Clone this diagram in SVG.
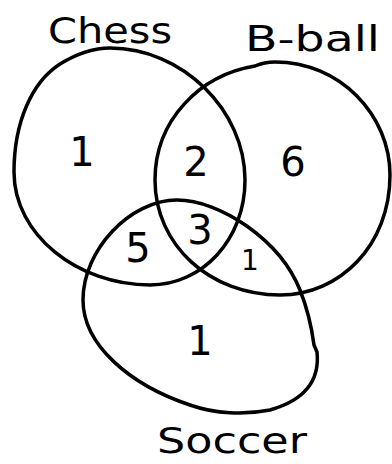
<svg xmlns="http://www.w3.org/2000/svg" width="392" height="464" viewBox="0 0 392 464">
<style>
.c{fill:none;stroke:#000;stroke-width:3.5;stroke-linecap:round;stroke-linejoin:round}
.t{font-family:"DejaVu Sans","Liberation Sans",sans-serif;fill:#000}
.lab{font-size:36px}
.num{font-size:40px}
</style>
<rect width="392" height="464" fill="#fff"/>
<g id="chess">
<path class="c" d="M60,64 C78,53 95,48 110,48 C182,48 245,110 245,180 C245,240 202,285 150,285 C78,285 14,235 14,172 C14,122 32,82 60,64 Z"/>
<text class="t lab" x="48" y="43" textLength="124" lengthAdjust="spacingAndGlyphs">Chess</text>
</g>
<g id="bball">
<path class="c" d="M255,66 C262,63 268,62 275,62 C340,62 390,115 390,175 C390,245 340,295 280,295 C210,295 155,245 155,180 C155,120 200,75 255,66 Z"/>
<text class="t lab" x="245" y="51" textLength="135" lengthAdjust="spacingAndGlyphs">B-ball</text>
</g>
<g id="soccer">
<path class="c" d="M177,200 C220,200 280,240 300,290 C308,310 312,330 314,345 L317,352 C320,380 305,400 270,410 C245,415 215,414 190,405 C130,385 83,345 83,300 C83,250 130,200 177,200 Z"/>
<text class="t lab" font-size="34" x="157" y="453" textLength="150" lengthAdjust="spacingAndGlyphs">Soccer</text>
</g>
<g id="regions">
<text class="t num" x="82" y="166" text-anchor="middle">1</text>
<text class="t num" x="196" y="176" text-anchor="middle">2</text>
<text class="t num" x="293" y="176" text-anchor="middle">6</text>
<text class="t num" x="138" y="262" text-anchor="middle">5</text>
<text class="t num" x="200" y="244" text-anchor="middle">3</text>
<text class="t" font-size="28" x="250" y="270" text-anchor="middle">1</text>
<text class="t num" x="200" y="355" text-anchor="middle">1</text>
</g>
<g id="connectors"></g>
</svg>
